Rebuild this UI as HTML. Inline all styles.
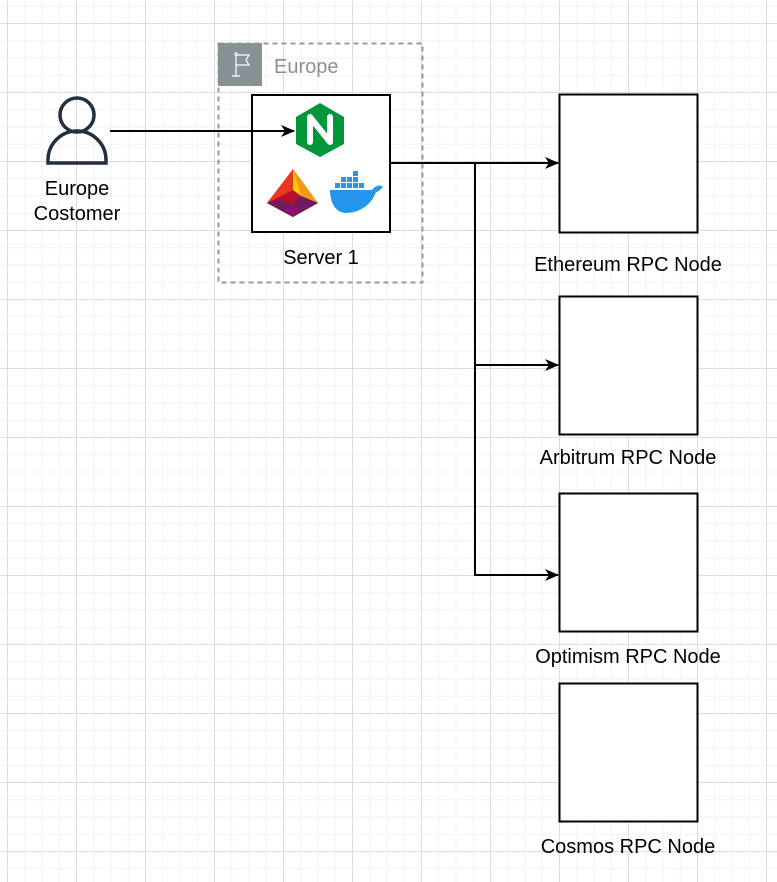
<!DOCTYPE html>
<html><head><meta charset="utf-8"><style>
html,body{margin:0;padding:0;background:#fff;}
svg{display:block;}
text{font-family:"Liberation Sans",Arial,sans-serif;}
</style></head><body>
<svg width="777" height="882" viewBox="0 0 777 882" xmlns="http://www.w3.org/2000/svg">
<defs>
<pattern id="minor" x="7" y="23" width="17.25" height="17.25" patternUnits="userSpaceOnUse">
<path d="M0 0.5H17.25M0.5 0V17.25" stroke="#f2f2f2" stroke-width="1" fill="none"/>
</pattern>
<pattern id="major" x="7" y="23" width="69" height="69" patternUnits="userSpaceOnUse">
<path d="M0 0.5H69M0.5 0V69" stroke="#dcdcdc" stroke-width="1" fill="none"/>
</pattern>
<marker id="ar" markerWidth="14" markerHeight="12" refX="13" refY="6" orient="auto" markerUnits="userSpaceOnUse">
<path d="M0 0L14 6L0 12L4 6Z" fill="#000"/>
</marker>
</defs>
<rect width="777" height="882" fill="#fff"/>
<rect width="777" height="882" fill="url(#minor)"/>
<rect width="777" height="882" fill="url(#major)"/>

<rect x="218.5" y="43.5" width="204" height="239" fill="none" stroke="#999" stroke-width="2" stroke-dasharray="5 4"/>
<rect x="218" y="43" width="44" height="43" fill="#879196"/>
<path d="M232 76H240M236 76V55L249 55L246 60L249 65H236" stroke="#fff" stroke-width="1.2" fill="none"/>
<circle cx="236" cy="54" r="1.3" fill="none" stroke="#fff"/>
<text x="274" y="73" font-size="20" fill="#879196">Europe</text>

<circle cx="77" cy="115" r="17" fill="none" stroke="#232f3e" stroke-width="3.5"/>
<path d="M48 163V160A29 29 0 0 1 106 160V163Z" fill="none" stroke="#232f3e" stroke-width="3.5"/>
<text x="77" y="195" font-size="20" text-anchor="middle">Europe</text>
<text x="77" y="220" font-size="20" text-anchor="middle">Costomer</text>

<rect x="252" y="95" width="138" height="137" fill="#fff" stroke="#000" stroke-width="2"/>
<text x="321" y="264" font-size="20" text-anchor="middle">Server 1</text>
<polygon points="320,103 344,117 344,144 320,157 296,144 296,117" fill="#009639"/>
<path d="M310 142V117L330 142V117" stroke="#fff" stroke-width="6" fill="none" stroke-linejoin="round" stroke-linecap="round"/>
<polygon points="293,169 318,203 293,217 267,203" fill="#e8381e"/>
<polygon points="293,169 318,203 301,196" fill="#f39a1c"/>
<polygon points="293,169 301,196 293,190" fill="#ffd400"/>
<polygon points="267,203 293,190 301,196 293,217" fill="#b4102e"/>
<polygon points="267,203 293,217 318,203 301,196 293,205 280,200" fill="#6d1a5e"/>
<polygon points="285,210 293,217 301,210 293,205" fill="#8e1072"/>
<path d="M330 190H372C375 186 380 184 383 187C380 190 378 192 376 192C371 206 358 213 346 213C336 213 330 203 330 190Z" fill="#2496ed"/>
<g fill="#2496ed">
<rect x="335" y="183" width="5" height="5"/><rect x="341" y="183" width="5" height="5"/><rect x="347" y="183" width="5" height="5"/><rect x="353" y="183" width="5" height="5"/><rect x="359" y="183" width="5" height="5"/>
<rect x="341" y="177" width="5" height="5"/><rect x="347" y="177" width="5" height="5"/><rect x="353" y="177" width="5" height="5"/>
<rect x="353" y="171" width="5" height="5"/>
</g>

<line x1="110" y1="131" x2="294" y2="131" stroke="#000" stroke-width="2" marker-end="url(#ar)"/>

<g stroke="#000" stroke-width="2" fill="none">
<line x1="390" y1="163" x2="558" y2="163" marker-end="url(#ar)"/>
<polyline points="475,163 475,575 558,575" marker-end="url(#ar)"/>
<line x1="475" y1="365" x2="558" y2="365" marker-end="url(#ar)"/>
</g>

<g fill="#fff" stroke="#000" stroke-width="2">
<rect x="559.5" y="94.5" width="138" height="138"/>
<rect x="559.5" y="296.5" width="138" height="138"/>
<rect x="559.5" y="493.5" width="138" height="138"/>
<rect x="559.5" y="683.5" width="138" height="138"/>
</g>
<g font-size="20" text-anchor="middle">
<text x="628" y="271">Ethereum RPC Node</text>
<text x="628" y="464">Arbitrum RPC Node</text>
<text x="628" y="663">Optimism RPC Node</text>
<text x="628" y="853">Cosmos RPC Node</text>
</g>
</svg>
</body></html>
